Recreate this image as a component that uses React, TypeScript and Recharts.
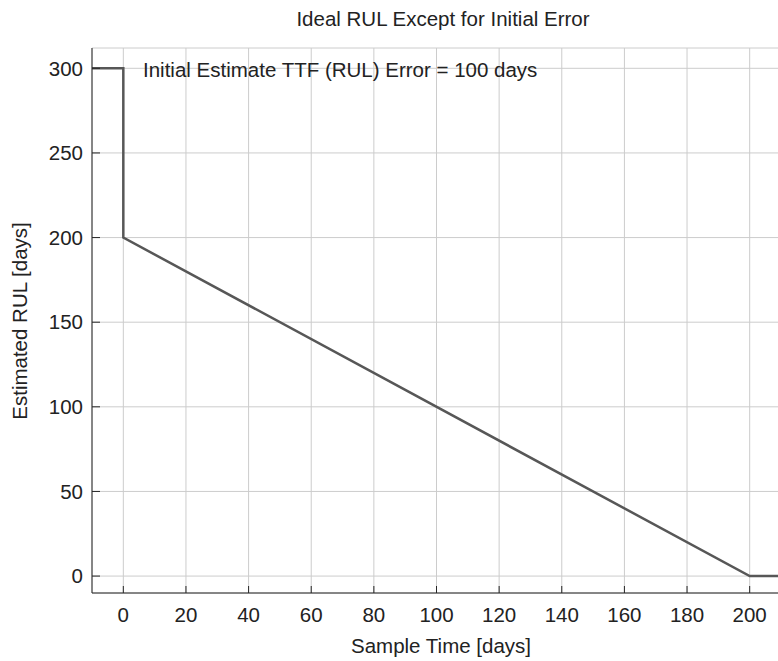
import React from 'react';
import { LineChart, Line, XAxis, YAxis, CartesianGrid } from 'recharts';

// sample time [days] vs estimated RUL [days]
const sampleTime = [-10, 0, 0, 200, 210];
const estimatedRul = [300, 300, 200, 0, 0];

const xTicks = [0, 20, 40, 60, 80, 100, 120, 140, 160, 180, 200];
const yTicks = [0, 50, 100, 150, 200, 250, 300];

const title = 'Ideal RUL Except for Initial Error';
const xLabel = 'Sample Time [days]';
const yLabel = 'Estimated RUL [days]';
const note = 'Initial Estimate TTF (RUL) Error = 100 days';

const data = sampleTime.map((t, i) => ({ t, rul: estimatedRul[i] }));

const FONT = '"Liberation Sans", Arial, Helvetica, sans-serif';
const TEXT = '#222';
const AXIS = '#262626';

const XTick = (props: any) => {
  const { x, y, payload } = props;
  return (
    <g>
      <line x1={x} y1={y} x2={x} y2={y - 7} stroke={AXIS} strokeWidth={1} />
      <text x={x} y={y + 29} textAnchor="middle" fontSize={20.5} fontFamily={FONT} fill={TEXT}>
        {payload.value}
      </text>
    </g>
  );
};

const YTick = (props: any) => {
  const { x, y, payload } = props;
  return (
    <g>
      <line x1={x} y1={y} x2={x + 8} y2={y} stroke={AXIS} strokeWidth={1} />
      <text x={x - 9} y={y + 7.3} textAnchor="end" fontSize={20.5} fontFamily={FONT} fill={TEXT}>
        {payload.value}
      </text>
    </g>
  );
};

export default function App() {
  return (
    <div style={{ position: 'absolute', left: 0, top: 0, width: 778, height: 661, background: '#fff' }}>
      <LineChart
        width={778}
        height={661}
        data={data}
        margin={{ top: 48, right: -3, left: 0, bottom: 0 }}
      >
        <CartesianGrid stroke="#cccccc" strokeWidth={1} />
        <XAxis
          dataKey="t"
          type="number"
          domain={[-10, 210]}
          ticks={xTicks}
          height={68}
          tickSize={0}
          tickMargin={0}
          tickLine={false}
          axisLine={{ stroke: AXIS, strokeWidth: 1 }}
          tick={<XTick />}
          interval={0}
        />
        <YAxis
          type="number"
          domain={[-10, 312]}
          ticks={yTicks}
          width={92}
          tickSize={0}
          tickMargin={0}
          tickLine={false}
          axisLine={{ stroke: AXIS, strokeWidth: 1 }}
          tick={<YTick />}
          interval={0}
        />
        <Line
          dataKey="rul"
          type="linear"
          stroke="#575757"
          strokeWidth={2.5}
          dot={false}
          activeDot={false}
          isAnimationActive={false}
        />
      </LineChart>
      <svg
        width={778}
        height={661}
        style={{ position: 'absolute', left: 0, top: 0, pointerEvents: 'none' }}
      >
        <text x={443} y={26} textAnchor="middle" fontSize={20.5} fontFamily={FONT} fill={TEXT}>
          {title}
        </text>
        <text x={441} y={653} textAnchor="middle" fontSize={20.5} fontFamily={FONT} fill={TEXT}>
          {xLabel}
        </text>
        <text
          x={0}
          y={0}
          transform="translate(27,321) rotate(-90)"
          textAnchor="middle"
          fontSize={20.5}
          fontFamily={FONT}
          fill={TEXT}
        >
          {yLabel}
        </text>
        <text x={143} y={77} fontSize={20.5} fontFamily={FONT} fill={TEXT}>
          {note}
        </text>
      </svg>
    </div>
  );
}
